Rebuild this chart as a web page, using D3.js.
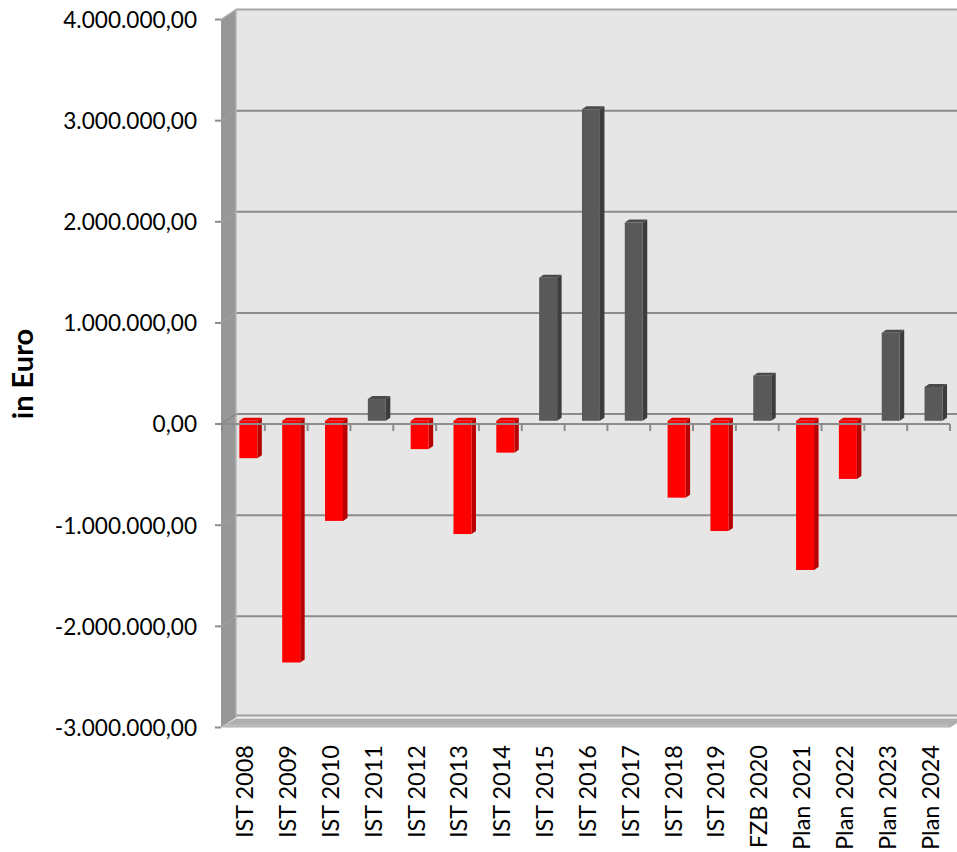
<!DOCTYPE html>
<html><head><meta charset="utf-8">
<script src="https://cdn.jsdelivr.net/npm/d3@7/dist/d3.min.js"></script>
<style>body{margin:0;background:#fff}svg{display:block}</style>
</head><body>
<script>
const categories = ["IST 2008","IST 2009","IST 2010","IST 2011","IST 2012","IST 2013","IST 2014","IST 2015","IST 2016","IST 2017","IST 2018","IST 2019","FZB 2020","Plan 2021","Plan 2022","Plan 2023","Plan 2024"];
const values = [-370000,-2390000,-990000,215000,-280000,-1120000,-315000,1415000,3080000,1960000,-760000,-1090000,445000,-1475000,-575000,870000,335000];
const yTicks = [-3000000,-2000000,-1000000,0,1000000,2000000,3000000,4000000];
const yTitle = "in Euro";

const W = 957, H = 852;
const svg = d3.select("body").append("svg").attr("width", W).attr("height", H);

const locale = d3.formatLocale({decimal: ",", thousands: ".", grouping: [3], currency: ["", "€"], minus: "-"});
const fmt = locale.format(",.2f");

const x0 = 221, x1 = 950;
const DX = 15, DY = -10;
const y = d3.scaleLinear().domain([-3000000, 4000000]).range([727.5, 19.5]);
const x = d3.scaleBand().domain(categories).range([x0 + 1, x1]).paddingInner(0.58).paddingOuter(0.29);
const step = x.step();

const yMin = y(-3000000), yMax = y(4000000);

// back wall
svg.append("rect").attr("x", x0 + DX).attr("y", yMax + DY).attr("width", W).attr("height", yMin - yMax)
  .attr("fill", "#e6e6e6");
svg.append("line").attr("x1", x0 + DX).attr("x2", W + 20).attr("y1", yMax + DY).attr("y2", yMax + DY)
  .attr("stroke", "#a6a6a6").attr("stroke-width", 2);

// back gridlines
svg.append("g").selectAll("line").data(yTicks.filter(t => t > -3000000 && t < 4000000)).join("line")
  .attr("x1", x0 + DX).attr("x2", W + 20)
  .attr("y1", d => y(d) + DY).attr("y2", d => y(d) + DY)
  .attr("stroke", "#8c8c8c").attr("stroke-width", 2);

// left wall
svg.append("path")
  .attr("d", `M${x0},${yMax} L${x0 + DX},${yMax + DY} L${x0 + DX},${yMin + DY} L${x0},${yMin} Z`)
  .attr("fill", "#979797");
svg.append("line").attr("x1", x0 + DX).attr("x2", x0 + DX).attr("y1", yMax + DY).attr("y2", yMin + DY)
  .attr("stroke", "#b5b5b5").attr("stroke-width", 1.5);
svg.append("g").selectAll("line").data(yTicks.filter(t => t > -3000000 && t < 4000000)).join("line")
  .attr("x1", x0).attr("x2", x0 + DX)
  .attr("y1", d => y(d)).attr("y2", d => y(d) + DY)
  .attr("stroke", d => d === 0 ? "#8c8c8c" : "#a2a2a2").attr("stroke-width", d => d === 0 ? 2 : 1);
svg.append("line").attr("x1", x0).attr("x2", x0 + DX).attr("y1", yMax).attr("y2", yMax + DY)
  .attr("stroke", "#b0b0b0").attr("stroke-width", 1.5);

// floor
svg.append("path")
  .attr("d", `M${x0},${yMin} L${x0 + DX},${yMin + DY + 1} L${W + 20},${yMin + DY + 1} L${x1 + DX},${yMin + DY + 1} L${x1},${yMin} Z`)
  .attr("fill", "#b0b0b0");
svg.append("path")
  .attr("d", `M${x0 + DX},${yMin + DY - 2} L${W + 20},${yMin + DY - 2}`)
  .attr("stroke", "#a0a0a0").attr("stroke-width", 2).attr("fill", "none");
svg.append("path")
  .attr("d", `M${x0 + 2},${yMin - 2} L${x1 - 2},${yMin - 2}`)
  .attr("stroke", "#bdbdbd").attr("stroke-width", 2).attr("fill", "none");

// bars (3D)
const d0 = 0.33, dd = 0.3;
const bars = svg.append("g");
categories.forEach((c, i) => {
  const v = values[i];
  const pos = v >= 0;
  const front = pos ? "#595959" : "#ff0000";
  const side = pos ? "#3c3c3c" : "#b80000";
  const top = pos ? "#4a4a4a" : "#e20000";
  const bx = x(c) + DX * d0, bw = x.bandwidth();
  const yt = y(Math.max(0, v)) + DY * d0, yb = y(Math.min(0, v)) + DY * d0;
  const ox = DX * dd, oy = DY * dd;
  const g = bars.append("g");
  g.append("path").attr("d", `M${bx + bw},${yt} L${bx + bw + ox},${yt + oy} L${bx + bw + ox},${yb + oy} L${bx + bw},${yb} Z`).attr("fill", side);
  g.append("path").attr("d", `M${bx},${yt} L${bx + ox},${yt + oy} L${bx + bw + ox},${yt + oy} L${bx + bw},${yt} Z`).attr("fill", top);
  g.append("rect").attr("x", bx).attr("y", yt).attr("width", bw).attr("height", yb - yt).attr("fill", front);
});

// category axis at zero (front)
const y0 = y(0);
svg.append("line").attr("x1", x0 - 6).attr("x2", x1).attr("y1", y0).attr("y2", y0)
  .attr("stroke", "#8c8c8c").attr("stroke-width", 2);
const bounds = categories.map((c, i) => x0 + 1 + i * step).concat([x1]);
svg.append("g").selectAll("line").data(bounds).join("line")
  .attr("x1", d => d).attr("x2", d => d).attr("y1", y0).attr("y2", y0 + 7)
  .attr("stroke", "#8c8c8c").attr("stroke-width", 2);

// y ticks
svg.append("g").selectAll("line").data(yTicks).join("line")
  .attr("x1", x0 - 6).attr("x2", x0).attr("y1", d => y(d)).attr("y2", d => y(d))
  .attr("stroke", "#8c8c8c").attr("stroke-width", 2);
svg.append("g").selectAll("text").data(yTicks).join("text")
  .attr("x", 197).attr("y", d => y(d)).attr("dy", "0.37em")
  .attr("text-anchor", "end")
  .style("font-family", "Lato, 'Open Sans', sans-serif").style("font-size", "22.6px").attr("fill", "#000")
  .text(d => fmt(d));

// x labels
svg.append("g").selectAll("text").data(categories).join("text")
  .attr("transform", d => `translate(${x(d) + x.bandwidth() / 2 + 1.5},745) rotate(-90)`)
  .attr("dy", "0.36em").attr("text-anchor", "end")
  .style("font-family", "Lato, 'Open Sans', sans-serif").style("font-size", "23.5px").attr("fill", "#000")
  .text(d => d);

// y title
svg.append("text").attr("transform", "translate(23,374) rotate(-90)")
  .attr("dy", "0.36em").attr("text-anchor", "middle")
  .style("font-family", "Lato, 'Open Sans', sans-serif").style("font-size", "29px").style("font-weight", "bold")
  .attr("fill", "#000").text(yTitle);
</script>
</body></html>
